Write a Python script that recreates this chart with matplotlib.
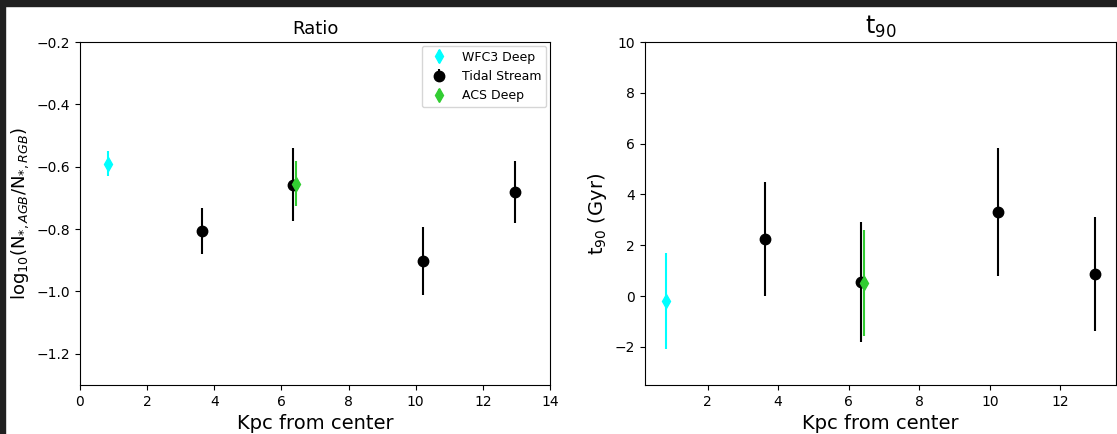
import matplotlib
matplotlib.use("Agg")
import matplotlib.pyplot as plt
from matplotlib.patches import Rectangle

# distance from centre (kpc)
wfc3_x = [0.83]
tidal_x = [3.63, 6.35, 10.22, 12.97]
acs_x = [6.43]

# log10(N_AGB / N_RGB)
wfc3_ratio = [-0.59]
wfc3_ratio_err = [0.04]
tidal_ratio = [-0.806, -0.658, -0.902, -0.681]
tidal_ratio_err = [0.074, 0.117, 0.11, 0.098]
acs_ratio = [-0.655]
acs_ratio_err = [0.072]

# t90 (Gyr)
wfc3_t90 = [-0.2]
wfc3_t90_err = [1.9]
tidal_t90 = [2.24, 0.55, 3.3, 0.86]
tidal_t90_err = [2.25, 2.35, 2.52, 2.24]
acs_t90 = [0.52]
acs_t90_err = [2.1]


def methods_one():
    fig = plt.figure(figsize=(11.17, 4.34), dpi=100)
    ax1 = fig.add_axes([0.0716, 0.1129, 0.4208, 0.7903])
    ax2 = fig.add_axes([0.5774, 0.1129, 0.4217, 0.7903])

    ax1.errorbar(wfc3_x, wfc3_ratio, yerr=wfc3_ratio_err, fmt='d', color='cyan', ms=7.5, label='WFC3 Deep')
    ax1.errorbar(tidal_x, tidal_ratio, yerr=tidal_ratio_err, fmt='o', color='black', ms=7.5, label='Tidal Stream')
    ax1.errorbar(acs_x, acs_ratio, yerr=acs_ratio_err, fmt='d', color='limegreen', ms=7.5, label='ACS Deep')
    ax1.set_xlim(0, 14)
    ax1.set_ylim(-1.3, -0.2)
    ax1.set_title('Ratio', fontsize=13)
    ax1.set_xlabel('Kpc from center', fontsize=14)
    ax1.set_ylabel('log$_{10}$(N$_{*,AGB}$/N$_{*,RGB}$)', fontsize=13)
    ax1.legend(loc='upper right', fontsize=9, borderaxespad=0.3)

    ax2.errorbar(wfc3_x, wfc3_t90, yerr=wfc3_t90_err, fmt='d', color='cyan', ms=7.5)
    ax2.errorbar(tidal_x, tidal_t90, yerr=tidal_t90_err, fmt='o', color='black', ms=7.5)
    ax2.errorbar(acs_x, acs_t90, yerr=acs_t90_err, fmt='d', color='limegreen', ms=7.5)
    ax2.set_ylim(-3.5, 10)
    ax2.set_title('t$_{90}$', fontsize=17)
    ax2.set_xlabel('Kpc from center', fontsize=14)
    ax2.set_ylabel('t$_{90}$ (Gyr)', fontsize=14)

    # dark frame along top and left edge
    fig.patches.append(Rectangle((0, 1 - 6 / 434), 1, 6 / 434, transform=fig.transFigure,
                                 color='#202020', zorder=10))
    fig.patches.append(Rectangle((0, 0), 5 / 1117, 1, transform=fig.transFigure,
                                 color='#202020', zorder=10))

    fig.savefig('out.png', dpi=100)


if __name__ == "__main__":
    methods_one()
